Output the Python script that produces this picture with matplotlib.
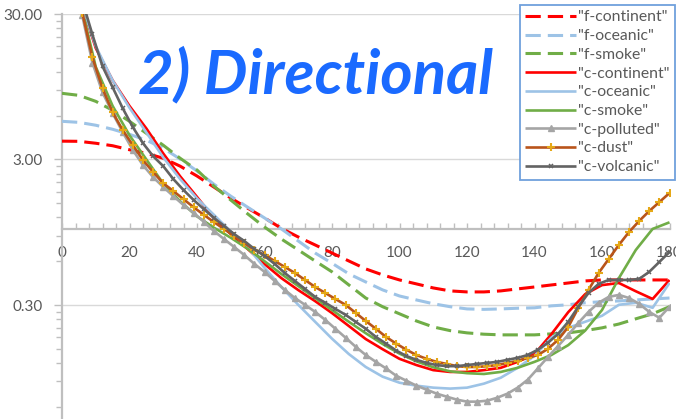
import matplotlib
matplotlib.use("Agg")
import matplotlib.pyplot as plt
from matplotlib.ticker import FixedLocator, FixedFormatter, NullFormatter

# ---------------- data ----------------
angles = list(range(0, 181, 5))          # degrees, 5-degree steps
angles_fine = list(range(0, 181, 3))     # degrees, 3-degree steps (marker series)

f_continent = [4.01, 4.0, 3.88, 3.73, 3.50, 3.31, 3.06, 2.70, 2.31, 1.94, 1.63, 1.39, 1.19,
               1.01, 0.88, 0.776, 0.683, 0.602, 0.531, 0.483, 0.446, 0.419, 0.393, 0.375,
               0.369, 0.369, 0.375, 0.387, 0.399, 0.412, 0.425, 0.439, 0.446, 0.446, 0.446,
               0.446, 0.446]
f_oceanic = [5.49, 5.40, 5.16, 4.84, 4.47, 4.07, 3.59, 3.02, 2.50, 2.03, 1.68, 1.41, 1.19,
             1.0, 0.826, 0.683, 0.581, 0.491, 0.432, 0.381, 0.346, 0.325, 0.306, 0.292,
             0.282, 0.28, 0.282, 0.285, 0.287, 0.296, 0.301, 0.311, 0.316, 0.320, 0.325,
             0.330, 0.335]
f_smoke = [8.55, 8.28, 7.53, 6.54, 5.49, 4.54, 3.76, 3.06, 2.54, 1.97, 1.58, 1.27, 1.03,
           0.852, 0.717, 0.602, 0.507, 0.412, 0.335, 0.292, 0.261, 0.233, 0.212, 0.20,
           0.193, 0.189, 0.187, 0.187, 0.187, 0.190, 0.193, 0.20, 0.209, 0.222, 0.241,
           0.261, 0.292]
c_continent = [80, 40, 17.5, 10.5, 7.0, 4.9, 3.3, 2.3, 1.66, 1.19, 0.922, 0.728, 0.574,
               0.459, 0.38, 0.319, 0.264, 0.215, 0.175, 0.149, 0.128, 0.116, 0.107, 0.104,
               0.104, 0.107, 0.111, 0.122, 0.138, 0.189, 0.268, 0.356, 0.411, 0.425, 0.373,
               0.33, 0.446]
c_oceanic = [80, 40, 18.0, 10.5, 6.8, 4.6, 3.1, 2.2, 1.62, 1.25, 0.96, 0.752, 0.54,
             0.399, 0.301, 0.230, 0.176, 0.138, 0.1125, 0.0965, 0.0877, 0.0837, 0.0811,
             0.0799, 0.0811, 0.0864, 0.0949, 0.111, 0.134, 0.179, 0.209, 0.230, 0.253,
             0.301, 0.311, 0.287, 0.425]
c_smoke = [80, 40, 13.0, 7.0, 4.4, 3.0, 2.05, 1.55, 1.22, 1.02, 0.87, 0.73, 0.60, 0.49,
           0.405, 0.335, 0.277, 0.23, 0.192, 0.162, 0.139, 0.123, 0.112, 0.105, 0.102,
           0.1007, 0.104, 0.111, 0.122, 0.136, 0.159, 0.20, 0.277, 0.459, 0.716, 1.0, 1.11]

c_polluted = [120, 62, 29.3, 13.9, 8.68, 6.23, 4.62, 3.48, 2.74, 2.27,
              1.94, 1.68, 1.46, 1.29, 1.12, 0.968, 0.852, 0.752, 0.662, 0.575,
              0.507, 0.439, 0.381, 0.335, 0.301, 0.269, 0.237, 0.206, 0.179, 0.155,
              0.136, 0.122, 0.110, 0.098, 0.0906, 0.0837, 0.0786, 0.0738, 0.0703, 0.0671,
              0.065, 0.065, 0.066, 0.0692, 0.0738, 0.0811, 0.092, 0.110, 0.132, 0.157,
              0.187, 0.226, 0.269, 0.311, 0.341, 0.352, 0.335, 0.306, 0.269, 0.245,
              0.292]
c_dust = [120, 62, 30.7, 15.1, 9.25, 6.33, 4.77, 3.76, 2.97, 2.46,
          2.06, 1.82, 1.60, 1.41, 1.25, 1.115, 0.999, 0.894, 0.80, 0.717,
          0.662, 0.602, 0.548, 0.498, 0.446, 0.399, 0.363, 0.330, 0.301, 0.265,
          0.233, 0.206, 0.181, 0.163, 0.148, 0.136, 0.128, 0.122, 0.118, 0.114,
          0.1125, 0.1125, 0.114, 0.116, 0.120, 0.124, 0.130, 0.136, 0.150, 0.173,
          0.212, 0.287, 0.381, 0.498, 0.622, 0.776, 0.952, 1.133, 1.327, 1.53,
          1.764]
c_volcanic = [90, 51, 37.1, 21.7, 13.1, 9.40, 6.74, 5.0, 3.88, 3.16,
              2.70, 2.20, 1.85, 1.58, 1.37, 1.19, 1.05, 0.922, 0.826, 0.728,
              0.652, 0.575, 0.498, 0.439, 0.387, 0.341, 0.311, 0.282, 0.257, 0.230,
              0.206, 0.181, 0.163, 0.146, 0.134, 0.126, 0.120, 0.116, 0.114, 0.114,
              0.116, 0.118, 0.120, 0.122, 0.126, 0.130, 0.136, 0.148, 0.165, 0.190,
              0.230, 0.292, 0.363, 0.419, 0.446, 0.446, 0.446, 0.453, 0.507, 0.593,
              0.695]

x_ticks = [0, 20, 40, 60, 80, 100, 120, 140, 160, 180]
y_ticks = [0.03, 0.3, 3, 30]
y_tick_labels = ["", "0.30", "3.00", "30.00"]
title = "2) Directional"

# ---------------- figure ----------------
W, H = 676, 419
fig = plt.figure(figsize=(W / 100, H / 100), dpi=100)
left_px, right_px, top_px, bottom_px = 62, 669.5, 14, 14 + 3 * 145.5
ax = fig.add_axes([left_px / W, 1 - bottom_px / H, (right_px - left_px) / W,
                   (bottom_px - top_px) / H])

FONT = ["Lato", "DejaVu Sans"]
TXT = "#595959"
AXC = "#BFBFBF"

ax.set_yscale("log")
ax.set_ylim(0.03, 30)
ax.set_xlim(0, 180)

dash = (0, (5, 2.3))
series = [
    ("\"f-continent\"", angles, f_continent, dict(color="#FF0000", lw=2.2, ls=dash)),
    ("\"f-oceanic\"", angles, f_oceanic, dict(color="#9DC3E6", lw=2.2, ls=dash)),
    ("\"f-smoke\"", angles, f_smoke, dict(color="#70AD47", lw=2.2, ls=dash)),
    ("\"c-continent\"", angles, c_continent, dict(color="#FF0000", lw=1.9)),
    ("\"c-oceanic\"", angles, c_oceanic, dict(color="#9DC3E6", lw=1.9)),
    ("\"c-smoke\"", angles, c_smoke, dict(color="#70AD47", lw=1.9)),
    ("\"c-polluted\"", angles_fine, c_polluted, dict(color="#A5A5A5", lw=1.9, marker="^",
                                                    ms=5, mfc="#A5A5A5", mec="#A5A5A5")),
    ("\"c-dust\"", angles_fine, c_dust, dict(color="#B9541A", lw=1.9, marker="+", ms=6,
                                            mew=1.5, mec="#E6A817")),
    ("\"c-volcanic\"", angles_fine, c_volcanic, dict(color="#636363", lw=1.9, marker="x",
                                                    ms=3.5, mew=1.1, mec="#636363")),
]
handles = []
for i, (lab, xs, ys, kw) in enumerate(series):
    ln, = ax.plot(xs, ys, label=lab, zorder=3 + i * 0.1, solid_capstyle="butt",
                  dash_capstyle="butt", **kw)
    handles.append(ln)

# axes styling
ax.yaxis.set_major_locator(FixedLocator(y_ticks))
ax.yaxis.set_major_formatter(FixedFormatter(y_tick_labels))
minor = [b * k for b in (0.03, 0.3, 3) for k in range(2, 10)]
ax.yaxis.set_minor_locator(FixedLocator(minor))
ax.yaxis.set_minor_formatter(NullFormatter())
ax.set_xticks(x_ticks)
ax.set_xticks(list(range(0, 181, 4)), minor=True)

ax.grid(axis="y", which="major", color="#D9D9D9", lw=1.0)
ax.set_axisbelow(True)
for s in ("top", "right"):
    ax.spines[s].set_visible(False)
ax.spines["left"].set_color(AXC)
ax.spines["left"].set_linewidth(1.6)
ax.spines["bottom"].set_position(("data", 1))
ax.spines["bottom"].set_color(AXC)
ax.spines["bottom"].set_linewidth(1.6)
ax.spines["bottom"].set_zorder(1)

ax.tick_params(axis="y", which="major", direction="out", length=6, width=1, color=AXC,
               pad=8, labelsize=11, labelcolor=TXT)
ax.tick_params(axis="y", which="minor", direction="out", length=4, width=1, color=AXC)
ax.tick_params(axis="x", which="both", direction="in", length=4, width=1, color=AXC,
               pad=12, labelsize=11, labelcolor=TXT)
for t in ax.get_xticklabels() + ax.get_yticklabels():
    t.set_family(FONT)

leg = ax.legend(handles=handles, loc="upper right", bbox_to_anchor=(675 / W, 1 - 5 / H),
                bbox_transform=fig.transFigure, frameon=True, fancybox=False,
                edgecolor="#6FA0DC", framealpha=1, borderpad=0.35, borderaxespad=0,
                handlelength=3.2, handletextpad=0.15, labelspacing=0.3, numpoints=1,
                prop={"family": FONT, "size": 11.3})
leg.get_frame().set_linewidth(1.3)
leg.set_zorder(10)
for t in leg.get_texts():
    t.set_color(TXT)

fig.text(138 / W, 1 - 93 / H, title, color="#1A6AFF", fontsize=44.5, fontweight="bold",
         fontstyle="italic", family=FONT, ha="left", va="baseline", zorder=11)

fig.savefig("out.png", dpi=100)
